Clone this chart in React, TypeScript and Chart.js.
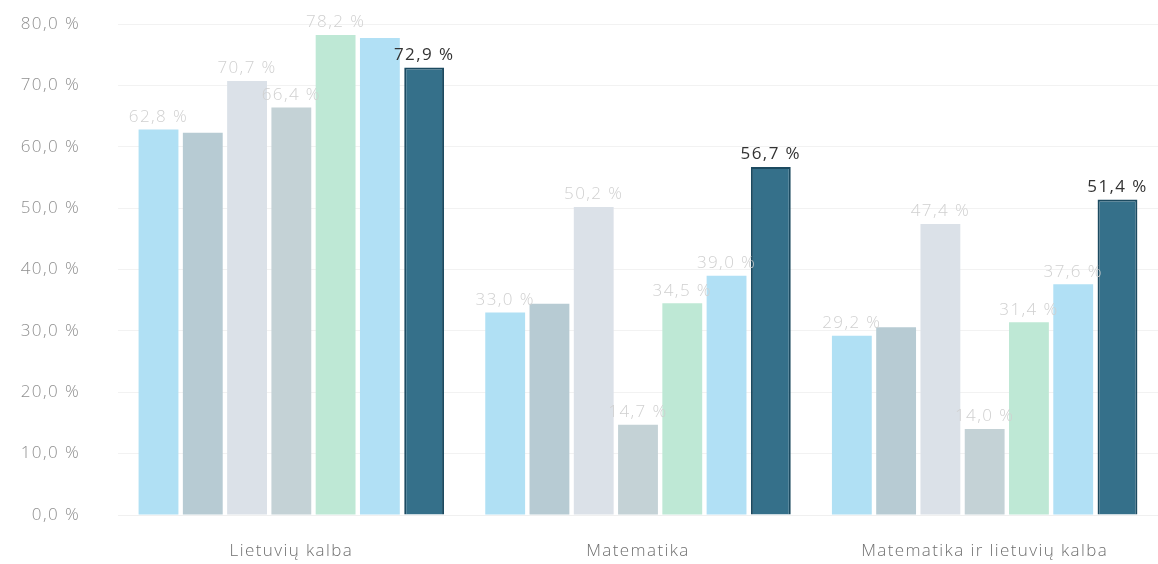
import React, { useEffect, useRef } from "react";
import { Chart, registerables } from "chart.js";

Chart.register(...registerables);

const categories = ["Lietuvių kalba", "Matematika", "Matematika ir lietuvių kalba"];

const series1 = [62.8, 33.0, 29.2];
const series2 = [62.3, 34.4, 30.6];
const series3 = [70.7, 50.2, 47.4];
const series4 = [66.4, 14.7, 14.0];
const series5 = [78.2, 34.5, 31.4];
const series6 = [77.7, 39.0, 37.6];
const series7 = [72.9, 56.7, 51.4];

const seriesNames = ["Serija 1", "Serija 2", "Serija 3", "Serija 4", "Serija 5", "Serija 6", "Serija 7"];
const seriesValues = [series1, series2, series3, series4, series5, series6, series7];
const seriesColors = ["#b0e0f4", "#b7cbd3", "#dbe1e8", "#c4d2d6", "#bee8d5", "#b1e0f5", "#35708a"];
const seriesBorders = ["#b0e0f4", "#b7cbd3", "#dbe1e8", "#c4d2d6", "#bee8d5", "#b1e0f5", "#1c4a60"];
const seriesLabelColors = ["#d0d0d0", "#d0d0d0", "#d0d0d0", "#d0d0d0", "#d0d0d0", "#d0d0d0", "#333333"];
const seriesLabelWeights = ["300", "300", "300", "300", "300", "300", "400"];
// which value labels are visible (per series, per category)
const labelVisible = [
  [true, true, true],
  [false, false, false],
  [true, true, true],
  [true, true, true],
  [true, true, true],
  [false, true, true],
  [true, true, true],
];

const yTicks = [0, 10, 20, 30, 40, 50, 60, 70, 80];

const fmt = (v: number) => v.toFixed(1).replace(".", ",") + " %";

const FONT = "'Open Sans', sans-serif";
const LS = "1.4px";

const spacing = {
  id: "spacing",
  beforeDraw(chart: any) {
    (chart.ctx as any).letterSpacing = LS;
  },
};

const valueLabels = {
  id: "valueLabels",
  afterDatasetsDraw(chart: any) {
    const ctx = chart.ctx;
    ctx.save();
    (ctx as any).letterSpacing = LS;
    ctx.textAlign = "center";
    ctx.textBaseline = "bottom";
    chart.data.datasets.forEach((ds: any, di: number) => {
      const meta = chart.getDatasetMeta(di);
      ctx.font = `${seriesLabelWeights[di]} 17px ${FONT}`;
      meta.data.forEach((bar: any, i: number) => {
        if (!labelVisible[di][i]) return;
        ctx.fillStyle = seriesLabelColors[di];
        ctx.fillText(fmt(ds.data[i]), bar.x, bar.y - 4);
      });
    });
    ctx.restore();
  },
};

export default function App() {
  const ref = useRef<HTMLCanvasElement | null>(null);

  useEffect(() => {
    document.body.style.margin = "0";
    const chart = new Chart(ref.current as HTMLCanvasElement, {
      type: "bar",
      data: {
        labels: categories,
        datasets: seriesValues.map((vals, i) => ({
          label: seriesNames[i],
          data: vals,
          backgroundColor: seriesColors[i],
          borderColor: seriesBorders[i],
          borderWidth: i === 6 ? 2 : 0,
          categoryPercentage: 0.894,
          barPercentage: 0.9,
        })),
      },
      options: {
        animation: false,
        responsive: false,
        maintainAspectRatio: false,
        layout: { padding: { top: 24, right: 0, bottom: 0, left: 0 } },
        plugins: {
          legend: { display: false },
          tooltip: { enabled: false },
        },
        scales: {
          x: {
            afterFit: (s: any) => {
              s.height = 49;
            },
            grid: { display: false, drawTicks: false },
            border: { display: true, color: "#f0f0f0" },
            ticks: { color: "#6f6f6f", font: { family: FONT, size: 17, weight: "300" }, padding: 26 },
          },
          y: {
            min: 0,
            max: 80,
            afterFit: (s: any) => {
              s.width = 118;
              s.paddingTop = 0;
              s.paddingBottom = 0;
            },
            afterBuildTicks: (s: any) => {
              s.ticks = yTicks.map((v) => ({ value: v }));
            },
            grid: { color: "#f2f2f2", drawTicks: false },
            border: { display: false },
            ticks: {
              color: "#8f8f8f",
              font: { family: FONT, size: 17, weight: "300" },
              padding: 38,
              callback: (v: any) => fmt(Number(v)),
            },
          },
        },
      },
      plugins: [spacing, valueLabels],
    });
    return () => chart.destroy();
  }, []);

  return <canvas ref={ref} width={1158} height={564} style={{ display: "block" }} />;
}
